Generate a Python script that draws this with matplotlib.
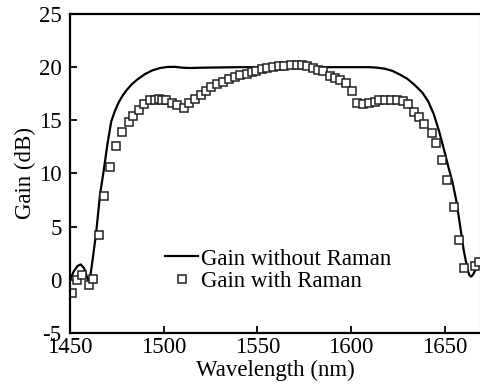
import matplotlib
matplotlib.use("Agg")
import matplotlib.pyplot as plt

plt.rcParams['font.family'] = ['Liberation Serif', 'DejaVu Serif']
plt.rcParams['axes.unicode_minus'] = False

# Gain spectrum without Raman (solid line)
wl_line = [1450, 1452, 1454, 1455.7, 1457.5, 1459, 1460.3, 1462, 1464, 1466,
           1468, 1470, 1472, 1474, 1476, 1478, 1480, 1483, 1486, 1490,
           1494, 1498, 1502, 1506, 1510, 1514, 1520, 1540, 1580, 1600,
           1610, 1614, 1618, 1622, 1626, 1630, 1634, 1638, 1641, 1644,
           1647, 1650, 1652, 1654, 1656, 1658, 1660, 1662, 1663, 1664,
           1665, 1666.5, 1668, 1669]
gain_line = [0.0, 0.8, 1.3, 1.45, 1.1, 0.3, -0.3, 1.8, 4.5, 8.0,
             10.3, 12.8, 14.9, 15.9, 16.7, 17.3, 17.8, 18.4, 18.85, 19.35,
             19.7, 19.92, 20.02, 20.03, 19.95, 19.92, 19.95, 20.0, 20.0, 20.0,
             20.0, 19.95, 19.85, 19.65, 19.3, 18.9, 18.3, 17.6, 16.8, 15.6,
             13.9, 11.9, 10.5, 9.2, 7.5, 5.2, 2.8, 1.0, 0.45, 0.3,
             0.5, 1.0, 1.6, 1.9]

# Gain spectrum with Raman (open squares)
wl_raman = [1451.2, 1453.9, 1456.2, 1460.0, 1462.4, 1465.3, 1468.3, 1471.3, 1474.5, 1477.6,
            1481.5, 1483.8, 1486.6, 1489.5, 1492.7, 1495.3, 1497.5, 1499.2, 1501.2, 1504.2,
            1507.2, 1510.8, 1513.6, 1516.7, 1519.7, 1522.5, 1525.2, 1528.6, 1531.8, 1534.6,
            1538.0, 1540.7, 1544.2, 1546.9, 1549.2, 1552.2, 1554.9, 1558.4, 1561.6, 1564.1,
            1567.9, 1570.9, 1573.7, 1576.4, 1579.4, 1582.4, 1585.1, 1588.7, 1591.3, 1594.0,
            1597.2, 1600.6, 1603.1, 1606.4, 1609.5, 1612.5, 1615.0, 1617.8, 1621.0, 1624.2,
            1627.4, 1630.1, 1633.5, 1636.3, 1638.8, 1642.9, 1645.4, 1648.6, 1651.3, 1654.8,
            1657.3, 1660.3, 1666.0, 1668.0]
gain_raman = [-1.2, 0.0, 0.5, -0.5, 0.1, 4.2, 7.85, 10.65, 12.6, 13.9,
              14.85, 15.4, 16.0, 16.55, 16.9, 16.95, 17.0, 16.95, 16.9, 16.65,
              16.4, 16.2, 16.65, 17.05, 17.35, 17.8, 18.15, 18.45, 18.65, 18.85,
              19.1, 19.3, 19.4, 19.55, 19.65, 19.85, 19.95, 20.05, 20.15, 20.15,
              20.2, 20.2, 20.2, 20.15, 19.9, 19.75, 19.65, 19.15, 19.0, 18.8,
              18.55, 17.75, 16.65, 16.5, 16.6, 16.75, 16.9, 16.9, 16.9, 16.9,
              16.85, 16.55, 15.8, 15.35, 14.7, 13.8, 12.85, 11.25, 9.4, 6.85,
              3.75, 1.1, 1.3, 1.7]

x_ticks = [1450, 1500, 1550, 1600, 1650]
y_ticks = [-5, 0, 5, 10, 15, 20, 25]

fig = plt.figure(figsize=(4.81, 3.85), dpi=100)
ax = fig.add_axes([70 / 481, 1 - 333 / 385, 410 / 481, 319 / 385])

ax.plot(wl_line, gain_line, color='black', lw=1.6, label='Gain without Raman')
ax.plot(wl_raman, gain_raman, ls='none', marker='s', ms=6.2, mfc='white',
        mec='#222222', mew=1.1, label='Gain with Raman')

ax.set_xlim(1450, 1668.7)
ax.set_ylim(-5, 25)
ax.set_xticks(x_ticks)
ax.set_yticks(y_ticks)
ax.tick_params(direction='in', length=5, width=1.3, labelsize=16.5, pad=3,
               top=False, right=False)
ax.tick_params(axis='y', pad=6)

for side in ('left', 'bottom', 'top'):
    ax.spines[side].set_linewidth(1.6)
    ax.spines[side].set_color('black')
ax.spines['right'].set_linewidth(0.8)
ax.spines['right'].set_color('#999999')

ax.set_xlabel('Wavelength (nm)', fontsize=16.5, labelpad=1)
ax.set_ylabel('Gain (dB)', fontsize=16.5, labelpad=2)

ax.legend(loc='upper left', bbox_to_anchor=(0.232, 0.265), frameon=False,
          fontsize=16.5, handlelength=1.45, handletextpad=0.1, labelspacing=0.05,
          borderpad=0, borderaxespad=0)

fig.savefig('out.png', dpi=100)
